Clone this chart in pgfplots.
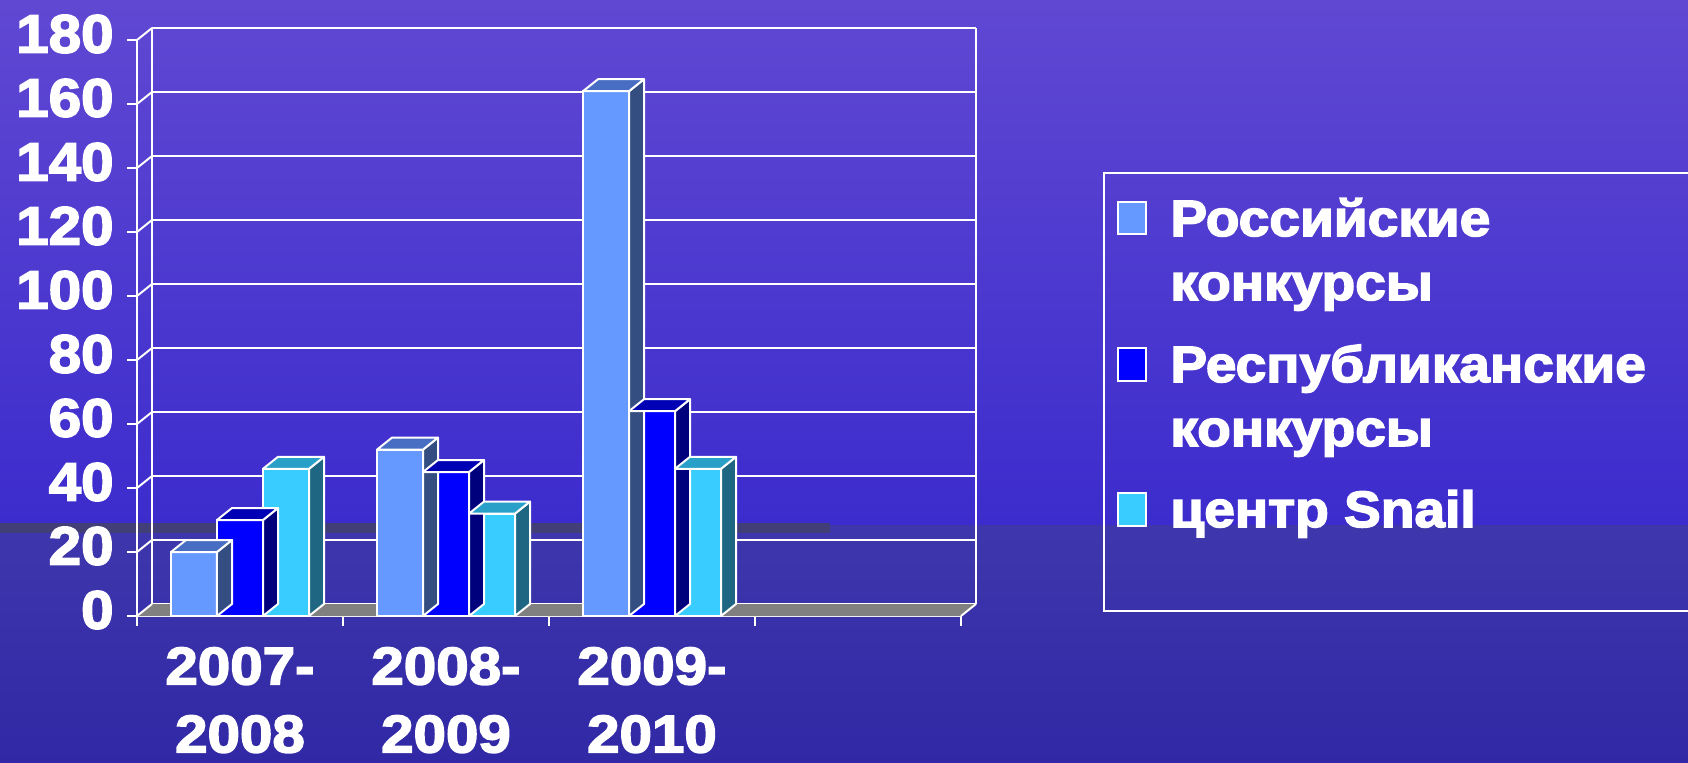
\documentclass[border=0pt]{standalone}
\usepackage{fontspec}
\usepackage{pgfplots}
\usepackage{pgfplotstable}
\pgfplotsset{compat=1.18}
\newfontfamily\heavy{Liberation Sans Bold}[FakeBold=3, FakeStretch=1.08]
\newfontfamily\heavyx{Liberation Sans Bold}[FakeBold=3, FakeStretch=1.1]

\definecolor{bgtop}{RGB}{96,72,210}
\definecolor{bgmid}{RGB}{60,44,205}
\definecolor{bglowa}{RGB}{62,55,172}
\definecolor{bglowb}{RGB}{48,40,165}
\definecolor{strip}{RGB}{66,62,120}
\definecolor{floorgray}{RGB}{128,128,128}
\definecolor{rosF}{RGB}{102,153,255}
\definecolor{rosT}{RGB}{72,110,195}
\definecolor{rosS}{RGB}{52,78,130}
\definecolor{resF}{RGB}{0,0,255}
\definecolor{resT}{RGB}{0,0,180}
\definecolor{resS}{RGB}{0,0,125}
\definecolor{snF}{RGB}{56,204,255}
\definecolor{snT}{RGB}{40,160,200}
\definecolor{snS}{RGB}{30,102,130}

\pgfplotstableread{
x ros resp snail
0.5 20 30 46
1.5 52 45 32
2.5 164 64 46
}\datatable

% 3D top and side faces of a bar, drawn as a plot mark at (category, value)
\newcommand\declbox[4]{%
\pgfdeclareplotmark{#1}{%
  \pgfmathsetmacro\hh{\barh*1.6}%
  \path[fill=#3, draw=white, line width=1pt, line join=round]
    (#2+11.5pt,0pt) -- ++(7.5pt,6pt) -- ++(0pt,-\hh pt) -- ++(-7.5pt,-6pt) -- cycle;
  \path[fill=#4, draw=white, line width=1pt, line join=round]
    (#2-11.5pt,0pt) -- ++(7.5pt,6pt) -- ++(23pt,0pt) -- ++(-7.5pt,-6pt) -- cycle;
}}
\declbox{boxros}{-23pt}{rosS}{rosT}
\declbox{boxres}{0pt}{resS}{resT}
\declbox{boxsn}{23pt}{snS}{snT}

\begin{document}
\begin{tikzpicture}
\clip (0,0) rectangle (844pt,381pt);
\shade[top color=bgtop, bottom color=bgmid] (0,118.5pt) rectangle (844pt,381pt);
\shade[top color=bglowa, bottom color=bglowb] (0,0) rectangle (844pt,118.5pt);
\fill[strip] (0,114.5pt) rectangle (415pt,119.5pt);
\begin{axis}[
  at={(68.5pt,73pt)}, anchor=south west,
  scale only axis, width=412pt, height=288pt,
  xmin=0, xmax=4, ymin=0, ymax=180,
  clip=false,
  axis x line*=bottom, axis y line*=left,
  axis line style={white, line width=1pt, -},
  xtick={0,1,2,3,4},
  x tick label as interval,
  xticklabels={{2007-\\2008},{2008-\\2009},{2009-\\2010},{}},
  ytick={0,20,...,180},
  tick align=outside,
  major tick length=5pt,
  tick style={white, line width=1pt},
  ymajorgrids,
  major grid style={white, line width=1pt, xshift=7.5pt, yshift=6pt},
  /pgf/number format/assume math mode=true,
  yticklabel style={font=\fontsize{27}{32}\heavy, text=white, anchor=east, inner sep=0pt, yshift=3pt, xshift=-6.5pt},
  xticklabel style={font=\fontsize{26.5}{34}\heavyx, text=white, align=center, anchor=north, inner sep=0pt, yshift=-10.5pt},
]
\fill[floorgray] (axis cs:0,0) -- ([shift={(7.5pt,6pt)}]axis cs:0,0) -- ([shift={(7.5pt,6pt)}]axis cs:4,0) -- (axis cs:4,0) -- cycle;
\draw[white, line width=1pt] ([shift={(7.5pt,6pt)}]axis cs:0,0) -- ([shift={(7.5pt,6pt)}]axis cs:0,180);
\draw[white, line width=1pt] ([shift={(7.5pt,6pt)}]axis cs:4,0) -- ([shift={(7.5pt,6pt)}]axis cs:4,180);
\draw[white, line width=1pt] (axis cs:4,0) -- ++(7.5pt,6pt);
\pgfplotsinvokeforeach{0,20,40,60,80,100,120,140,160,180}{\draw[white, line width=1pt] (axis cs:0,#1) -- ++(7.5pt,6pt);}

\addplot[ybar, bar width=23pt, bar shift=-23pt, fill=rosF, draw=white, line width=1pt] table[x=x, y=ros] {\datatable};
\addplot[only marks, mark=boxros, visualization depends on={\thisrow{ros}\as\barh}] table[x=x, y=ros] {\datatable};
\addplot[ybar, bar width=23pt, bar shift=0pt, fill=resF, draw=white, line width=1pt] table[x=x, y=resp] {\datatable};
\addplot[only marks, mark=boxres, visualization depends on={\thisrow{resp}\as\barh}] table[x=x, y=resp] {\datatable};
\addplot[ybar, bar width=23pt, bar shift=23pt, fill=snF, draw=white, line width=1pt] table[x=x, y=snail] {\datatable};
\addplot[only marks, mark=boxsn, visualization depends on={\thisrow{snail}\as\barh}] table[x=x, y=snail] {\datatable};
\end{axis}

% legend
\draw[white, line width=1pt] (552pt,75.5pt) rectangle (860pt,294.5pt);
\begin{scope}[every node/.style={anchor=base west, inner sep=0pt, text=white, font=\fontsize{25.5}{32}\heavy}]
\fill[rosF, draw=white, line width=1pt] (559pt,264pt) rectangle (573pt,280pt);
\node at (585pt,263pt) {Российские};
\node at (585pt,231pt) {конкурсы};
\fill[resF, draw=white, line width=1pt] (559pt,190.5pt) rectangle (573pt,207pt);
\node at (585pt,190pt) {Республиканские};
\node at (585pt,158pt) {конкурсы};
\fill[snF, draw=white, line width=1pt] (559pt,118pt) rectangle (573pt,134.5pt);
\node at (585pt,117.5pt) {центр Snail};
\end{scope}
\end{tikzpicture}
\end{document}
